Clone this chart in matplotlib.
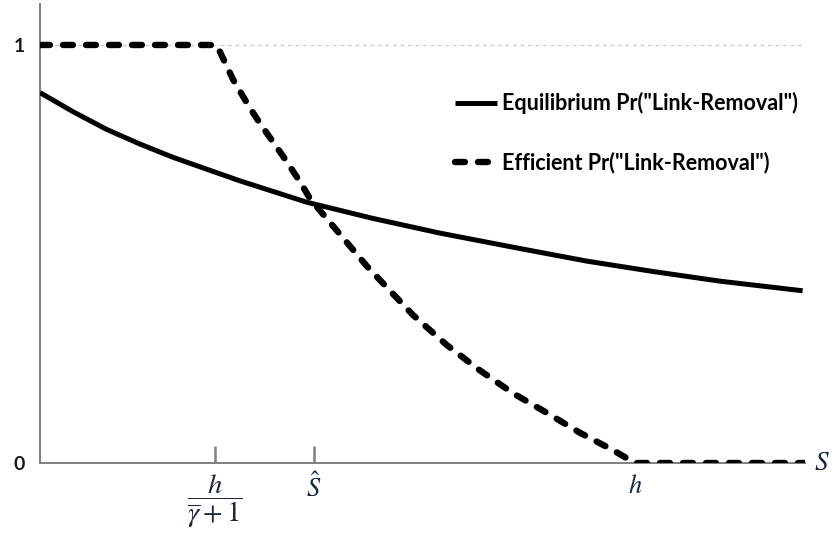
import matplotlib
matplotlib.use("Agg")
import matplotlib.pyplot as plt

plt.rcParams['mathtext.fontset'] = 'stix'

# ---- data (S in units of h; probabilities) ----
eq_s = [0.0, 0.056, 0.112, 0.168, 0.224, 0.280, 0.336, 0.448, 0.560, 0.672, 0.807,
        0.919, 1.031, 1.143, 1.282]
eq_p = [0.886, 0.840, 0.798, 0.763, 0.731, 0.703, 0.675, 0.624, 0.585, 0.550, 0.513,
        0.483, 0.458, 0.435, 0.412]

eff_s = [0.0, 0.297, 0.325, 0.353, 0.370, 0.409, 0.437, 0.454, 0.550, 0.627, 0.684,
         0.739, 0.795, 0.852, 0.908, 0.963, 1.0, 1.286]
eff_p = [1.0, 1.0, 0.916, 0.849, 0.812, 0.733, 0.673, 0.632, 0.470, 0.354, 0.282,
         0.222, 0.167, 0.120, 0.072, 0.031, 0.0, 0.0]

xtick_pos = [0.294, 0.4605, 1.0]
xtick_labels = [r'$\dfrac{h}{\overline{\gamma}+1}$', r'$\hat{S}$', r'$h$']
ytick_pos = [0, 1]
ytick_labels = ['0', '1']
series_labels = ['Equilibrium Pr("Link-Removal")', 'Efficient Pr("Link-Removal")']

W, H = 833, 535
fig = plt.figure(figsize=(W / 100, H / 100), dpi=100)
ax = fig.add_axes([40 / W, (H - 463) / H, 765 / W, (463 - 4) / H])

ax.set_xlim(0, 1.286)
ax.set_ylim(0, 1.098)

ax.axhline(1.0, color='#c8c8c8', lw=0.9, dashes=(3, 3), zorder=1)

l1, = ax.plot(eq_s, eq_p, color='black', lw=3.6, solid_capstyle='butt',
              solid_joinstyle='round', zorder=3)
l2, = ax.plot(eff_s, eff_p, color='black', lw=4.6, dashes=(1.55, 2.05),
              dash_capstyle='round', dash_joinstyle='round', zorder=4)

for s in ['top', 'right']:
    ax.spines[s].set_visible(False)
for s in ['left', 'bottom']:
    ax.spines[s].set_color('#808080')
    ax.spines[s].set_linewidth(1.4)

ax.set_xticks(xtick_pos)
ax.set_xticklabels(xtick_labels, fontsize=19, color='#1c2541')
ax.get_xticklabels()[0].set_fontsize(20.5)
ax.tick_params(axis='x', direction='in', length=12, width=1.8, color='#808080', pad=7)
ax.xaxis.get_major_ticks()[2].tick1line.set_visible(False)

ax.set_yticks(ytick_pos)
ax.set_yticklabels(ytick_labels, fontsize=14, fontweight='bold', family='Lato',
                   color='#1a1a1a')
ax.tick_params(axis='y', length=0, pad=11)

ax.text(1.012, 0.0, r'$S$', transform=ax.transAxes, fontsize=19.5, color='#1c2541',
        ha='left', va='center', clip_on=False)

leg = ax.legend([l1, l2], series_labels, loc='upper left',
                bbox_to_anchor=(455 / W, 1 - 92 / H), bbox_transform=fig.transFigure,
                frameon=False, prop={'family': 'Lato', 'weight': 'bold', 'size': 15.5},
                handlelength=1.95, handletextpad=0.25, labelspacing=1.75,
                borderpad=0, borderaxespad=0)

fig.savefig('out.png', dpi=100)
